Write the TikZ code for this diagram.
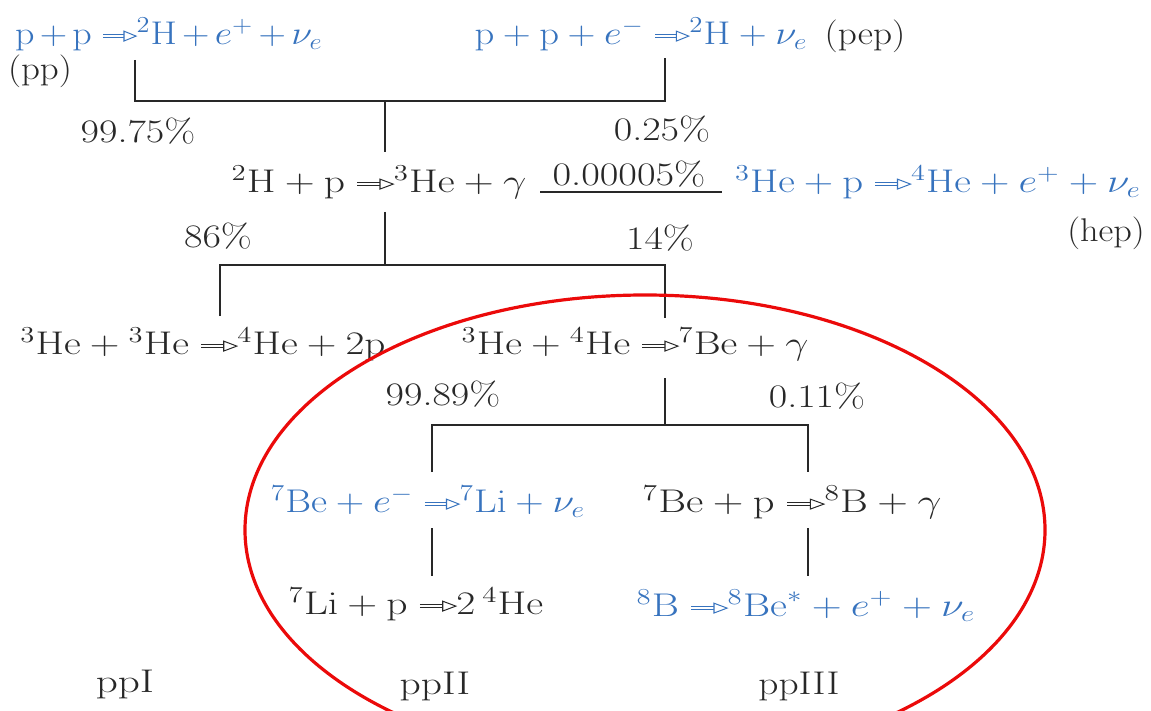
\documentclass[tikz,border=0pt]{standalone}
\definecolor{rxblue}{RGB}{55,115,190}
\definecolor{ink}{RGB}{40,40,40}
\definecolor{ringred}{RGB}{235,10,10}
\newcommand{\rarr}{\mathrel{\vcenter{\hbox{\tikz[line width=0.5pt,x=1pt,y=1pt]{\draw (0,0.9) -- (10,0.9) (0,-0.9) -- (10,-0.9); \draw[fill=white] (9.5,2.6) -- (15,0) -- (9.5,-2.6) -- cycle;}}}}\mskip-\thickmuskip}
\newcommand{\hx}[2]{\scalebox{#1}[0.95]{#2}}
\tikzset{
  eq/.style={anchor=mid, inner sep=0pt, text=ink},
  beq/.style={eq, text=rxblue},
  lnk/.style={draw=ink, line width=1pt},
  ring/.style={draw=ringred, line width=1.6pt}
}
\begin{document}
\begin{tikzpicture}[x=0.5pt,y=-0.5pt, font=\LARGE]
\useasboundingbox (0,0) rectangle (1151,711);
\node[beq] (pp) at (169,40) {\hx{1.1}{$\medmuskip=2.5mu\mathrm{p}+\mathrm{p}\rarr{}^2\mathrm{H}+e^+ +\nu_e$}};
\node[eq] (pplab) at (40,75) {\hx{1.07}{(pp)}};
\node[beq] (pep) at (641,40) {\hx{1.12}{$\mathrm{p}+\mathrm{p}+e^-\rarr{}^2\mathrm{H}+\nu_e$}};
\node[eq] (peplab) at (865,40) {\hx{1.08}{(pep)}};
\node[eq] (p1) at (138,138) {\hx{1.16}{99.75\%}};
\node[eq] (p2) at (662,136) {\hx{1.16}{0.25\%}};
\node[eq] (dh) at (379,188) {\hx{1.2}{${}^2\mathrm{H}+\mathrm{p}\rarr{}^3\mathrm{He}+\gamma$}};
\node[eq] (p3) at (629,181) {\hx{1.17}{0.00005\%}};
\node[beq] (hep) at (938,188) {\hx{1.18}{${}^3\mathrm{He}+\mathrm{p}\rarr{}^4\mathrm{He}+e^+ +\nu_e$}};
\node[eq] (heplab) at (1106,237) {\hx{1.05}{(hep)}};
\node[eq] (p4) at (218,243) {\hx{1.16}{86\%}};
\node[eq] (p5) at (660,245) {\hx{1.16}{14\%}};
\node[eq] (hh) at (203,350) {\hx{1.19}{${}^3\mathrm{He}+{}^3\mathrm{He}\rarr{}^4\mathrm{He}+2\mathrm{p}$}};
\node[eq] (hbe) at (635,350) {\hx{1.19}{${}^3\mathrm{He}+{}^4\mathrm{He}\rarr{}^7\mathrm{Be}+\gamma$}};
\node[eq] (p6) at (443,401) {\hx{1.16}{99.89\%}};
\node[eq] (p7) at (817,403) {\hx{1.16}{0.11\%}};
\node[beq] (bee) at (428,508) {\hx{1.14}{${}^7\mathrm{Be}+e^-\rarr{}^7\mathrm{Li}+\nu_e$}};
\node[eq] (bep) at (792,508) {\hx{1.23}{${}^7\mathrm{Be}+\mathrm{p}\rarr{}^8\mathrm{B}+\gamma$}};
\node[eq] (lip) at (416,610) {\hx{1.2}{${}^7\mathrm{Li}+\mathrm{p}\rarr 2\,{}^4\mathrm{He}$}};
\node[beq] (bdec) at (806,612) {\hx{1.2}{${}^8\mathrm{B}\rarr{}^8\mathrm{Be}^*+e^+ +\nu_e$}};
\node[eq] (c1) at (125,688) {\hx{1.25}{ppI}};
\node[eq] (c2) at (435,690) {\hx{1.2}{ppII}};
\node[eq] (c3) at (799,690) {\hx{1.14}{ppIII}};
% bracket 1
\coordinate (a1) at (135,60);
\coordinate (a2) at (665,58);
\coordinate (a3) at (385,101);
\coordinate (a4) at (385,152);
\draw[lnk] (a1) |- (a3) -| (a2);
\draw[lnk] (a3) -- (a4);
% hep branch line
\coordinate (h1) at (540,192);
\coordinate (h2) at (722,192);
\draw[lnk] (h1) -- (h2);
% bracket 2
\coordinate (b0) at (385,212);
\coordinate (b1) at (385,265);
\coordinate (b2) at (220,316);
\coordinate (b3) at (665,318);
\draw[lnk] (b0) -- (b1);
\draw[lnk] (b2) |- (b1) -| (b3);
% bracket 3
\coordinate (k0) at (665,378);
\coordinate (k1) at (665,425);
\coordinate (k2) at (432,472);
\coordinate (k3) at (808,472);
\draw[lnk] (k0) -- (k1);
\draw[lnk] (k2) |- (k1) -| (k3);
% verticals
\coordinate (d1) at (432,528);
\coordinate (d2) at (432,576);
\coordinate (e1) at (808,528);
\coordinate (e2) at (808,576);
\draw[lnk] (d1) -- (d2);
\draw[lnk] (e1) -- (e2);
% red ring
\begin{scope}
\clip (0,0) rectangle (1151,711);
\draw[ring] (645,530) ellipse [x radius=200pt, y radius=117.5pt];
\end{scope}
\end{tikzpicture}
\end{document}
